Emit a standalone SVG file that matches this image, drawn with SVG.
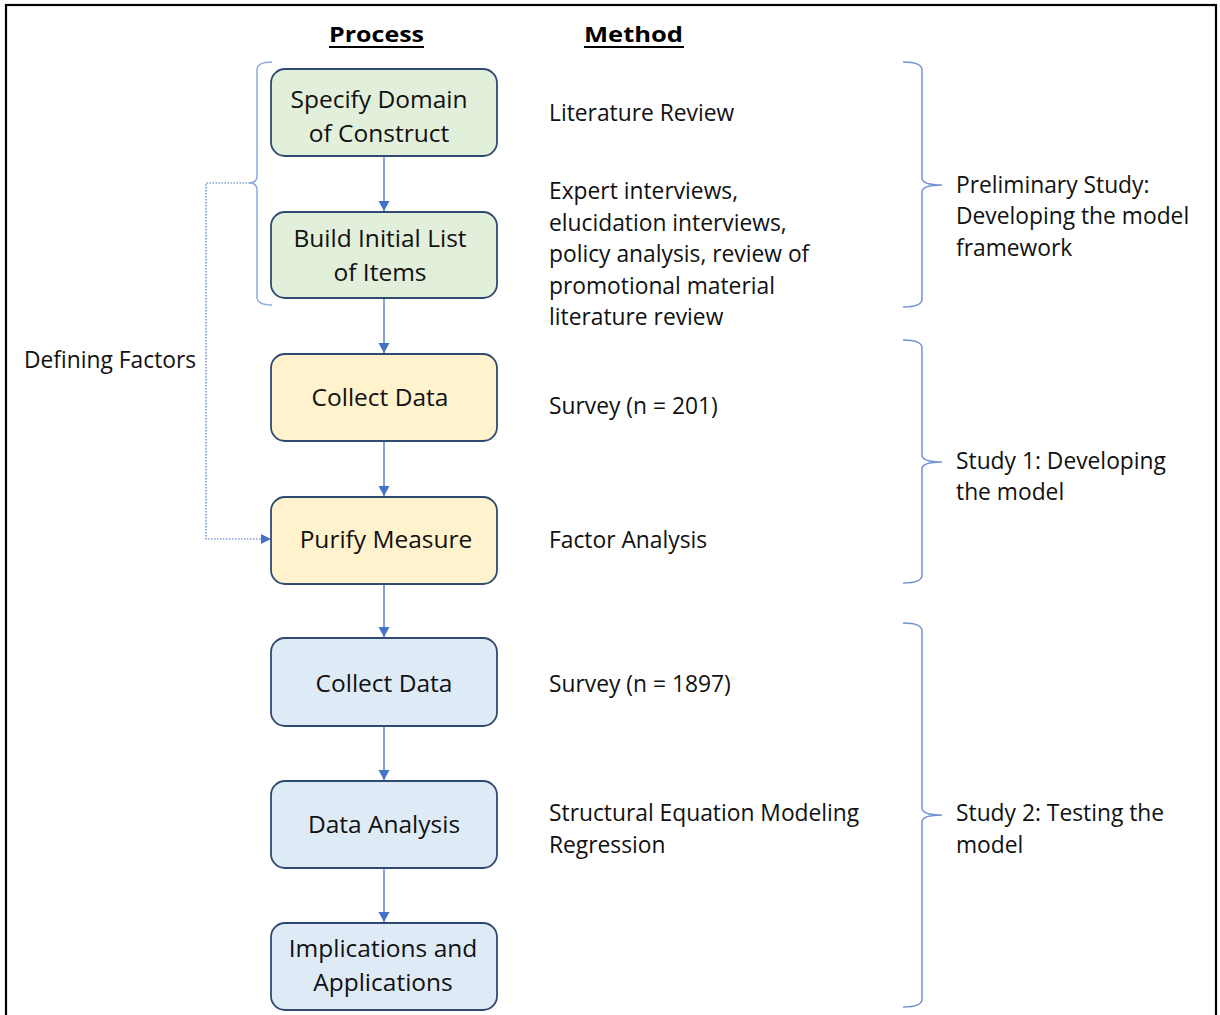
<svg xmlns="http://www.w3.org/2000/svg" width="1220" height="1015" viewBox="0 0 1220 1015">
<style>
  .t { font-family: "Open Sans", "Noto Sans", "Liberation Sans", sans-serif; fill: #111; }
  .node { font-size: 24.5px; }
  .m { font-size: 22.8px; }
  .h { font-family: "Open Sans", "Liberation Sans", sans-serif; font-weight: bold; font-size: 22px; fill: #000; }
  .green { fill: #E2EFDA; stroke: #2F4A72; stroke-width: 1.8; }
  .yellow { fill: #FFF2CC; stroke: #2F4A72; stroke-width: 1.8; }
  .blue { fill: #DEEBF7; stroke: #2F4A72; stroke-width: 1.8; }
  .arrow { stroke: #4472C4; stroke-width: 1.3; fill: none; }
  .brace { stroke: #6F92D4; stroke-width: 1.5; fill: none; }
  .lbrace { stroke: #8FAADC; stroke-width: 1.5; fill: none; }
  .dot { stroke: #4472C4; stroke-width: 1.2; fill: none; stroke-dasharray: 1.5 1.5; }
</style>
<defs>
  <marker id="ah" markerUnits="userSpaceOnUse" markerWidth="12" markerHeight="12" refX="10" refY="5.5" orient="auto">
    <path d="M0,0 L10,5.5 L0,11 z" fill="#4472C4"/>
  </marker>
</defs>
<rect x="0" y="0" width="1220" height="1015" fill="#ffffff"/>
<rect x="6" y="5" width="1210" height="1030" fill="none" stroke="#000" stroke-width="2.2"/>

<g id="headers">
  <text class="h" x="329" y="42" textLength="95" lengthAdjust="spacingAndGlyphs">Process</text>
  <line x1="329" y1="47" x2="424" y2="47" stroke="#000" stroke-width="2"/>
  <text class="h" x="584" y="42" textLength="99" lengthAdjust="spacingAndGlyphs">Method</text>
  <line x1="584" y1="47" x2="684" y2="47" stroke="#000" stroke-width="2"/>
</g>

<g id="connectors">
  <line class="arrow" x1="384" y1="156" x2="384" y2="211" marker-end="url(#ah)"/>
  <line class="arrow" x1="384" y1="298" x2="384" y2="353" marker-end="url(#ah)"/>
  <line class="arrow" x1="384" y1="441" x2="384" y2="496" marker-end="url(#ah)"/>
  <line class="arrow" x1="384" y1="584" x2="384" y2="637" marker-end="url(#ah)"/>
  <line class="arrow" x1="384" y1="726" x2="384" y2="780" marker-end="url(#ah)"/>
  <line class="arrow" x1="384" y1="868" x2="384" y2="922" marker-end="url(#ah)"/>
  <path class="dot" d="M250,183 L206,183 L206,539 L262,539"/>
  <path d="M261,534 L271,539 L261,544 z" fill="#4472C4"/>
</g>

<g id="braces">
  <path class="lbrace" d="M272,62 Q257,62 257,70 L257,176 Q257,183 249,183 Q257,183 257,190 L257,297 Q257,305 272,305"/>
  <path class="brace" d="M903,62 Q922,62 922,70 L922,178 Q922,185 942,185 Q922,185 922,192 L922,299 Q922,307 903,307"/>
  <path class="brace" d="M903,340 Q922,340 922,348 L922,455 Q922,462 942,462 Q922,462 922,469 L922,575 Q922,583 903,583"/>
  <path class="brace" d="M903,623 Q922,623 922,631 L922,808 Q922,815 942,815 Q922,815 922,822 L922,999 Q922,1007 903,1007"/>
</g>

<g id="n1">
  <rect class="green" x="271" y="69" width="226" height="87" rx="14"/>
  <text class="t node" x="379" y="108" text-anchor="middle">Specify Domain</text>
  <text class="t node" x="379" y="142" text-anchor="middle">of Construct</text>
</g>
<g id="n2">
  <rect class="green" x="271" y="212" width="226" height="86" rx="14"/>
  <text class="t node" x="380" y="247" text-anchor="middle">Build Initial List</text>
  <text class="t node" x="380" y="281" text-anchor="middle">of Items</text>
</g>
<g id="n3">
  <rect class="yellow" x="271" y="354" width="226" height="87" rx="14"/>
  <text class="t node" x="380" y="406" text-anchor="middle">Collect Data</text>
</g>
<g id="n4">
  <rect class="yellow" x="271" y="497" width="226" height="87" rx="14"/>
  <text class="t node" x="386" y="548" text-anchor="middle">Purify Measure</text>
</g>
<g id="n5">
  <rect class="blue" x="271" y="638" width="226" height="88" rx="14"/>
  <text class="t node" x="384" y="692" text-anchor="middle">Collect Data</text>
</g>
<g id="n6">
  <rect class="blue" x="271" y="781" width="226" height="87" rx="14"/>
  <text class="t node" x="384" y="833" text-anchor="middle">Data Analysis</text>
</g>
<g id="n7">
  <rect class="blue" x="271" y="923" width="226" height="87" rx="14"/>
  <text class="t node" x="383" y="957" text-anchor="middle">Implications and</text>
  <text class="t node" x="383" y="991" text-anchor="middle">Applications</text>
</g>

<g id="methods">
  <text class="t m" x="549" y="121">Literature Review</text>
  <text class="t m" x="549" y="199">Expert interviews,</text>
  <text class="t m" x="549" y="231">elucidation interviews,</text>
  <text class="t m" x="549" y="262">policy analysis, review of</text>
  <text class="t m" x="549" y="294">promotional material</text>
  <text class="t m" x="549" y="325">literature review</text>
  <text class="t m" x="549" y="414">Survey (n = 201)</text>
  <text class="t m" x="549" y="548">Factor Analysis</text>
  <text class="t m" x="549" y="692">Survey (n = 1897)</text>
  <text class="t m" x="549" y="821">Structural Equation Modeling</text>
  <text class="t m" x="549" y="853">Regression</text>
</g>

<g id="labels">
  <text class="t m" x="24" y="368">Defining Factors</text>
  <text class="t m" x="956" y="193">Preliminary Study:</text>
  <text class="t m" x="956" y="224">Developing the model</text>
  <text class="t m" x="956" y="256">framework</text>
  <text class="t m" x="956" y="469">Study 1: Developing</text>
  <text class="t m" x="956" y="500">the model</text>
  <text class="t m" x="956" y="821">Study 2: Testing the</text>
  <text class="t m" x="956" y="853">model</text>
</g>
</svg>
